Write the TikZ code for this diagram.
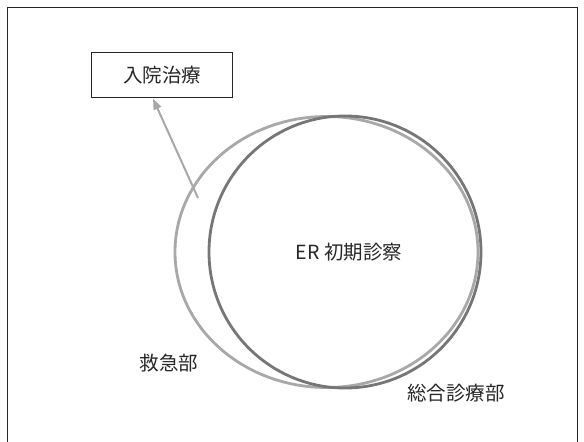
\documentclass[tikz,border=0pt]{standalone}
\usepackage{fontspec}
\setmainfont{Noto Sans CJK JP}
\usetikzlibrary{shapes.geometric,arrows.meta}
\definecolor{lightring}{HTML}{A8A8A8}
\definecolor{darkring}{HTML}{767676}
\definecolor{inkc}{HTML}{262626}
\tikzset{
  lbl/.style={font=\fontsize{19.5}{22}\selectfont, text=inkc, inner sep=0pt},
  ring/.style={line width=2.8pt, inner sep=0pt},
  boxn/.style={draw=inkc, line width=1.2pt, minimum width=141pt, minimum height=45pt, inner sep=0pt},
  arr/.style={draw=lightring, line width=2pt, -{Triangle[length=11pt,width=8pt]}}
}
\begin{document}
\begin{tikzpicture}[x=1pt,y=1pt]
\useasboundingbox (0,0) rectangle (584,442);
% frame (open at bottom)
\draw[inkc, line width=1pt] (7,-5) -- (7,434) -- (577,434) -- (577,-5);
% rings
\node[ring, draw=lightring, ellipse, minimum width=303pt, minimum height=271pt] (qq) at (326.5,190) {};
\node[ring, draw=darkring, circle, minimum size=272pt] (gm) at (345,190) {};
% labels
\node[lbl] (er) at (349,190) {ER 初期診察};
\node[lbl] (qql) at (169,79) {救急部};
\node[lbl] (gml) at (456,49) {総合診療部};
% box
\node[boxn, lbl] (adm) at (162,367.3) {入院治療};
% arrow
\coordinate (tail) at (198,244);
\coordinate (head) at (153,343.5);
\draw[arr] (tail) -- (head);
\end{tikzpicture}
\end{document}
